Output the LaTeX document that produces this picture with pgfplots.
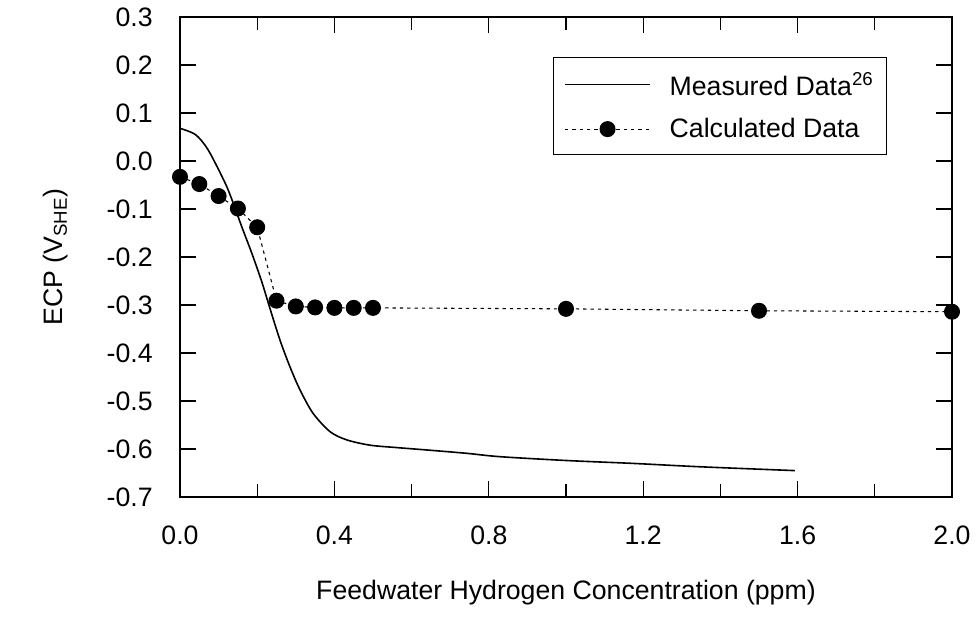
\documentclass[border=0pt]{standalone}
\usepackage{fontspec}
\setmainfont{Liberation Sans}
\usepackage{pgfplots}
\pgfplotsset{compat=1.18}

\begin{document}
\begin{tikzpicture}[font=\fontsize{20}{24}\selectfont]
\begin{axis}[
    scale only axis,
    width=579pt, height=360pt,
    xmin=0, xmax=2.0, ymin=-0.7, ymax=0.3,
    xtick={0,0.4,0.8,1.2,1.6,2.0},
    minor xtick={0.2,0.6,1.0,1.4,1.8},
    ytick={-0.7,-0.6,-0.5,-0.4,-0.3,-0.2,-0.1,0,0.1,0.2,0.3},
    tick align=inside,
    major tick length=12pt, minor tick length=10pt,
    every tick/.style={black, line width=1pt},
    axis line style={line width=1pt},
    /pgf/number format/assume math mode=true,
    /pgf/number format/.cd, fixed, fixed zerofill, precision=1, /pgfplots/.cd,
    xticklabel shift=18pt,
    yticklabel shift=17pt,
    xlabel={Feedwater Hydrogen Concentration (ppm)},
    ylabel={ECP (V\textsubscript{SHE})},
    xlabel shift=20pt,
    ylabel shift=22pt,
    clip=false,
    legend style={at={(0.483,0.917)}, anchor=north west, draw=black, line width=0.8pt,
        inner xsep=8pt, inner ysep=9pt, row sep=12pt, column sep=12pt,
        nodes={inner sep=2pt, anchor=west}},
    legend cell align=left,
    legend image code/.code={\draw[mark repeat=2,mark phase=2,#1] plot coordinates {(0pt,0pt) (32pt,0pt) (64pt,0pt)};},
]
\addplot[black, line width=1.2pt, smooth, tension=0.5] coordinates {
(0,0.068) (0.04,0.055) (0.073,0.023) (0.117,-0.046) (0.138,-0.088) (0.16,-0.137)
(0.186,-0.192) (0.212,-0.252) (0.233,-0.307) (0.259,-0.373) (0.285,-0.429)
(0.311,-0.477) (0.345,-0.526) (0.389,-0.564) (0.432,-0.581) (0.492,-0.592)
(0.561,-0.597) (0.639,-0.602) (0.743,-0.609) (0.829,-0.616) (1.002,-0.624)
(1.174,-0.630) (1.347,-0.637) (1.593,-0.645)};
\addlegendentry{Measured Data\textsuperscript{26}}
\addplot[black, line width=0.8pt, dash pattern=on 2.5pt off 3pt,
    mark=*, mark size=5.6pt, mark options={solid}] coordinates {
(0,-0.033) (0.05,-0.048) (0.1,-0.073) (0.15,-0.099) (0.2,-0.138) (0.25,-0.291)
(0.3,-0.303) (0.35,-0.305) (0.4,-0.306) (0.45,-0.306) (0.5,-0.306)
(1.0,-0.308) (1.5,-0.312) (2.0,-0.314)};
\addlegendentry{Calculated Data}
\end{axis}
\path (current axis.south west) ++(-135pt,-99pt) (current axis.north east) ++(18pt,12.75pt);
\end{tikzpicture}
\end{document}
